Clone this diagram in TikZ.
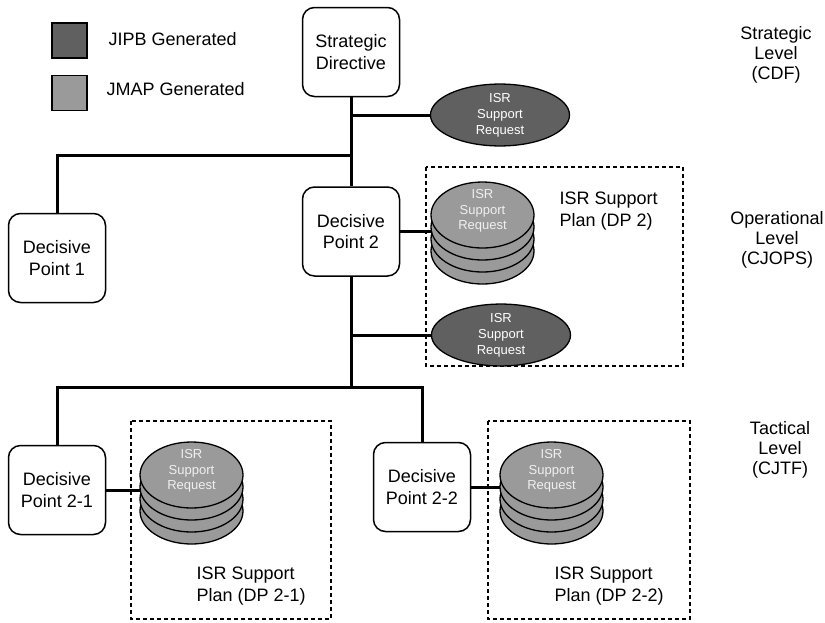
\documentclass[tikz,border=0pt]{standalone}
\usepackage{fontspec}
\setmainfont{Liberation Sans}
\usetikzlibrary{shapes.geometric}
\definecolor{jipb}{HTML}{606060}
\definecolor{jmap}{HTML}{9A9A9A}
\definecolor{lighttext}{HTML}{F0F0F0}
\tikzset{
  dpbox/.style={draw, line width=1.5pt, rounded corners=12pt, fill=white,
    minimum width=97pt, minimum height=89pt, align=center,
    font=\fontsize{18}{21.5}\selectfont},
  conn/.style={line width=3pt},
  reqell/.style={ellipse, draw, line width=1.3pt, fill=jipb, text=white,
    minimum width=139pt, minimum height=56pt, inner sep=0pt, align=center,
    font=\fontsize{13}{16}\selectfont},
  layer/.style={draw, line width=1.3pt, fill=jmap},
  stacktext/.style={text=lighttext, align=center, font=\fontsize{13}{15.5}\selectfont},
  planbox/.style={draw, line width=1.2pt, dash pattern=on 4pt off 3pt},
  plantext/.style={align=left, anchor=west, font=\fontsize{18}{22}\selectfont},
  leveltext/.style={align=center, font=\fontsize{18}{20}\selectfont},
  legsq/.style={draw, line width=1.1pt, minimum size=35pt, inner sep=0pt},
  legtext/.style={anchor=west, font=\fontsize{18}{21}\selectfont}
}
% a stack of four plan layers; #1 name, (#2,#3) centre of the top layer
\newcommand{\planstack}[3]{%
  \foreach \k in {36,24,12} {
    \draw[layer] (#2,#3+\k) ellipse [x radius=51.5pt, y radius=33pt];
  }
  \draw[layer] (#2,#3) ellipse [x radius=51.5pt, y radius=33pt];
  \node[stacktext] at (#2,#3-4) {ISR\\Support\\Request};
  \node[inner sep=0pt, minimum width=103pt, minimum height=100pt]
    (#1) at (#2,#3+18) {};
}
\begin{document}
\begin{tikzpicture}[x=1pt, y=-1pt]
\useasboundingbox (0,0) rectangle (825,622);

% legend
\node[legsq, fill=jipb] (legA) at (69.5,40.5) {};
\node[legsq, fill=jmap] (legB) at (69.5,93) {};
\node[legtext] (legAt) at (105,39) {JIPB Generated};
\node[legtext] (legBt) at (103,89) {JMAP Generated};

% level captions
\node[leveltext] (lvS) at (776,55) {Strategic\\Level\\(CDF)};
\node[leveltext] (lvO) at (777,240) {Operational\\Level\\(CJOPS)};
\node[leveltext] (lvT) at (780,450) {Tactical\\Level\\(CJTF)};

% dashed plan frames
\draw[planbox] (426,167) rectangle (683,366);
\draw[planbox] (131,421) rectangle (331,619);
\draw[planbox] (488,421) rectangle (690,619);

% plan stacks
\planstack{stk2}{482.5}{215}
\planstack{stk21}{191.5}{475}
\planstack{stk22}{551.5}{475}

\node[plantext] (pl2) at (556,211) {ISR Support\\Plan (DP 2)};
\node[plantext] (pl21) at (193,586) {ISR Support\\Plan (DP 2-1)};
\node[plantext] (pl22) at (551,586) {ISR Support\\Plan (DP 2-2)};

% decision boxes
\node[dpbox] (sd) at (351,52) {Strategic\\Directive};
\node[dpbox] (dp1) at (57,258) {Decisive\\Point 1};
\node[dpbox] (dp2) at (351,231.5) {Decisive\\Point 2};
\node[dpbox] (dp21) at (57,490) {Decisive\\Point 2-1};
\node[dpbox] (dp22) at (422,487) {Decisive\\Point 2-2};

% support requests
\node[reqell] (rq1) at (500,115) {ISR\\Support\\Request};
\node[reqell] (rq2) at (501,335) {ISR\\Support\\Request};

% junctions on the trunk
\coordinate (j0) at (351,115);
\coordinate (j1) at (351,155);
\coordinate (j2) at (351,335);
\coordinate (j3) at (351,387);

% connectors
\draw[conn] (sd.south) -- (dp2.north);
\draw[conn] (j0) -- (rq1.west);
\draw[conn] (j1) -| (dp1.north);
\draw[conn] (dp2.south) -- (j3);
\draw[conn] (j2) -- (rq2.west);
\draw[conn] (j3) -| (dp21.north);
\draw[conn] (j3) -| (dp22.north);
\draw[conn] (dp2.east) -- (dp2.east -| stk2.west);
\draw[conn] (dp21.east) -- (dp21.east -| stk21.west);
\draw[conn] (dp22.east) -- (dp22.east -| stk22.west);
\end{tikzpicture}
\end{document}
